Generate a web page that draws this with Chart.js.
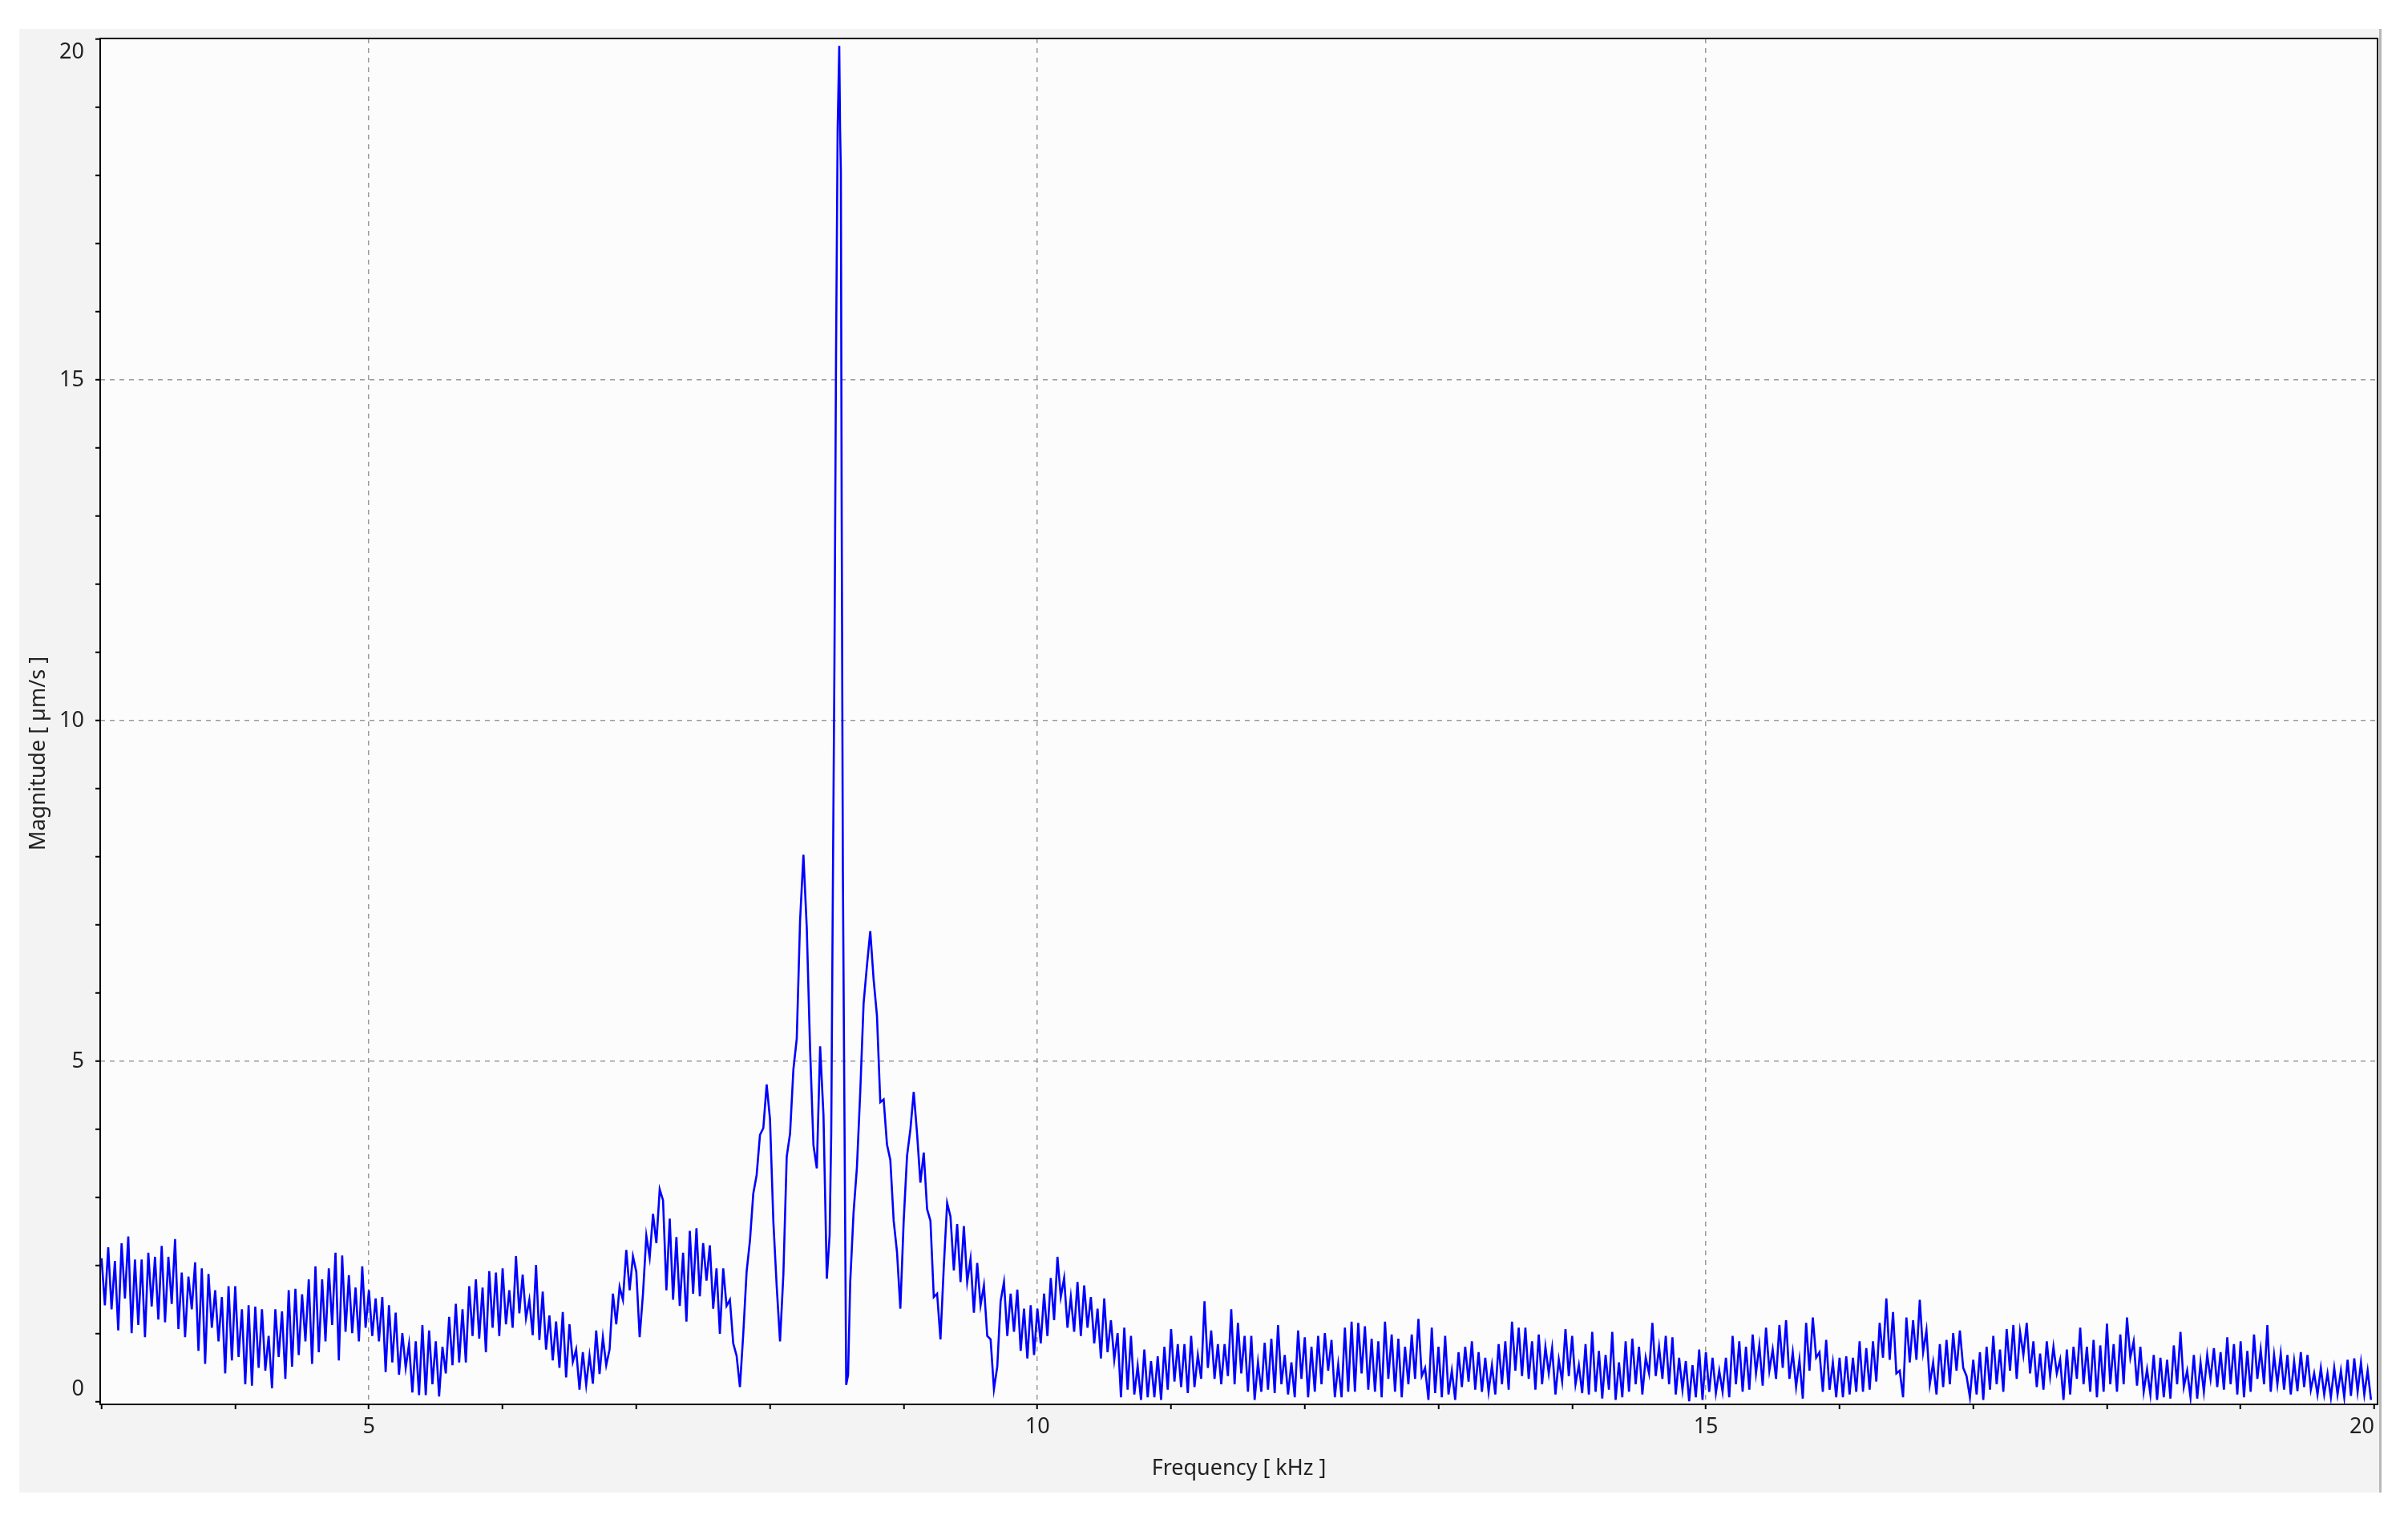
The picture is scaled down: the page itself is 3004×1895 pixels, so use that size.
<!DOCTYPE html>
<html>
<head>
<meta charset="utf-8">
<script src="https://cdn.jsdelivr.net/npm/chart.js@4.4.1/dist/chart.umd.min.js"></script>
<style>
  html, body { margin: 0; padding: 0; background: #fff; }
  canvas { display: block; width: 3004px; height: 1895px; }
</style>
</head>
<body>
<canvas id="spectrum" width="3004" height="1895"></canvas>
<script>
const BIN_STEP = 0.025;

// 3.00 - 6.00 kHz
const mag3to6 = [
  2.11,1.42, 2.27,1.36, 2.07,1.05, 2.33,1.52, 2.43,1.01,
  2.09,1.13, 2.09,0.95, 2.19,1.40, 2.13,1.21, 2.29,1.17,
  2.13,1.44, 2.39,1.07, 1.90,0.95, 1.84,1.36, 2.05,0.75,
  1.96,0.56, 1.88,1.09, 1.64,0.89, 1.54,0.42, 1.70,0.61,
  1.70,0.66, 1.36,0.26, 1.42,0.24, 1.40,0.50, 1.36,0.46,
  0.97,0.20, 1.36,0.66, 1.33,0.34, 1.64,0.52, 1.66,0.69,
  1.58,0.89, 1.80,0.56, 1.99,0.73, 1.80,0.89, 1.96,1.13,
  2.19,0.61, 2.15,1.03, 1.86,1.01, 1.68,0.89, 1.99,1.09,
  1.64,0.97, 1.52,0.89, 1.54,0.44, 1.42,0.58, 1.31,0.40,
  1.01,0.50, 0.85,0.14, 0.89,0.10, 1.13,0.10, 1.05,0.26,
  0.89,0.08, 0.81,0.42, 1.25,0.54, 1.44,0.58, 1.36,0.58,
  1.70,0.97, 1.80,0.93, 1.68,0.73, 1.92,1.09, 1.90,0.97,
];

// 6.00 - 8.00 kHz
const mag6to8 = [
  1.96,1.14, 1.64,1.09, 2.14,1.30, 1.87,1.23, 1.50,0.98,
  2.01,0.91, 1.62,0.77, 1.27,0.61, 1.18,0.50, 1.32,0.36,
  1.14,0.59, 0.77,0.18, 0.73,0.25, 0.68,0.27, 1.05,0.41,
  0.95,0.54, 0.77,1.59, 1.14,1.69, 1.50,2.23, 1.64,2.14,
  1.91,0.95, 1.59,2.44, 2.12,2.76, 2.33,3.12, 2.96,1.64,
  2.69,1.50, 2.42,1.41, 2.19,1.18, 2.51,1.59, 2.55,1.55,
  2.33,1.78, 2.30,1.37, 1.96,1.00, 1.96,1.41, 1.50,0.86,
  0.68,0.22, 1.00,1.91, 2.37,3.06, 3.33,3.92, 4.02,4.66,
];

// 8.00 - 8.45 kHz
const mag8to845 = [
  4.15,2.65, 1.70,0.89, 1.87,3.60, 3.94,4.88, 5.33,7.07,
  8.03,6.96, 5.17,3.77, 3.43,5.22, 4.21,1.81,
];

// main resonance, finer bins
const spikeFreq = [8.446, 8.458, 8.470, 8.482, 8.494, 8.506, 8.518, 8.524, 8.530, 8.536, 8.545, 8.556, 8.570, 8.584];
const spikeMag  = [2.45, 3.95, 7.50, 10.85, 15.40, 18.70, 19.90, 18.70, 18.05, 13.20, 7.80, 4.45, 0.25, 0.40];

// 8.60 - 10.50 kHz
const mag86to105 = [
  1.76,2.78, 3.44,4.55, 5.85,6.40, 6.91,6.20, 5.67,4.40,
  4.44,3.78, 3.55,2.66, 2.20,1.37, 2.66,3.61, 4.00,4.55,
  3.94,3.22, 3.66,2.83, 2.66,1.54, 1.59,0.92, 1.99,2.92,
  2.72,1.93, 2.61,1.76, 2.58,1.76, 2.10,1.31, 2.04,1.42,
  1.71,0.97, 0.92,0.19, 0.52,1.48, 1.76,0.97, 1.59,1.03,
  1.65,0.75, 1.37,0.64, 1.42,0.69, 1.37,0.86, 1.59,0.97,
  1.82,1.20, 2.13,1.54, 1.82,1.09, 1.54,1.03, 1.76,0.97,
  1.71,1.09, 1.54,0.86, 1.37,0.64,
];

// 10.50 - 13.65 kHz
const mag105to1365 = [
  1.52,0.73, 1.20,0.62, 1.01,0.07, 1.09,0.18, 0.97,0.11,
  0.53,0.03, 0.77,0.07, 0.60,0.07, 0.67,0.03, 0.81,0.18,
  1.07,0.30, 0.85,0.22, 0.85,0.13, 0.97,0.22, 0.69,0.34,
  1.48,0.50, 1.05,0.34, 0.85,0.26, 0.85,0.38, 1.36,0.26,
  1.16,0.42, 0.97,0.15, 0.97,0.03, 0.58,0.15, 0.87,0.18,
  0.93,0.13, 1.13,0.26, 0.69,0.11, 0.58,0.07, 1.05,0.34,
  0.95,0.07, 0.81,0.15, 0.97,0.26, 1.01,0.46, 0.91,0.07,
  0.55,0.07, 1.09,0.15, 1.18,0.15, 1.16,0.42, 1.11,0.18,
  0.93,0.15, 0.89,0.07, 1.18,0.34, 0.99,0.15, 0.93,0.07,
  0.81,0.26, 0.99,0.34, 1.22,0.38, 0.50,0.03, 1.09,0.13,
  0.81,0.07, 0.97,0.11, 0.46,0.03, 0.73,0.22, 0.81,0.30,
  0.89,0.18, 0.73,0.15, 0.65,0.15, 0.54,0.11, 0.85,0.26,
  0.89,0.18, 1.18,0.46, 1.09,0.38,
];

// 13.65 - 16.75 kHz
const mag1365to1675 = [
  1.09,0.34, 0.89,0.18, 0.99,0.26, 0.81,0.42, 0.79,0.11,
  0.62,0.30, 1.07,0.38, 0.97,0.26, 0.54,0.13, 0.85,0.11,
  1.03,0.15, 0.75,0.05, 0.69,0.18, 1.03,0.03, 0.58,0.07,
  0.89,0.15, 0.93,0.26, 0.81,0.11, 0.65,0.42, 1.16,0.38,
  0.81,0.34, 0.97,0.26, 0.95,0.11, 0.65,0.18, 0.60,0.01,
  0.54,0.07, 0.77,0.03, 0.73,0.15, 0.65,0.13, 0.46,0.15,
  0.65,0.07, 0.97,0.26, 0.89,0.15, 0.81,0.18, 0.99,0.42,
  0.83,0.24, 1.09,0.46, 0.77,0.34, 1.13,0.50, 1.20,0.34,
  0.73,0.22, 0.62,0.05, 1.16,0.46, 1.24,0.65, 0.73,0.15,
  0.91,0.18, 0.58,0.07, 0.65,0.07, 0.67,0.11, 0.65,0.15,
  0.89,0.15, 0.79,0.18, 0.89,0.30, 1.16,0.65, 1.52,0.62,
  1.32,0.42, 0.46,0.07, 1.24,0.58, 1.20,0.62, 1.50,0.73,
  1.05,0.26, 0.58,0.11,
];

// 16.75 - 20.00 kHz
const mag1675to20 = [
  0.85,0.22, 0.91,0.26, 1.01,0.46, 1.05,0.50, 0.38,0.07,
  0.62,0.11, 0.73,0.03, 0.81,0.18, 0.97,0.26, 0.77,0.15,
  1.07,0.46, 1.13,0.34, 1.03,0.69, 1.16,0.42, 0.89,0.22,
  0.71,0.18, 0.89,0.38, 0.81,0.42, 0.62,0.03, 0.77,0.11,
  0.81,0.34, 1.09,0.26, 0.81,0.15, 0.91,0.07, 0.83,0.15,
  1.15,0.26, 0.85,0.15, 0.99,0.26, 1.24,0.65, 0.89,0.24,
  0.81,0.15, 0.48,0.11, 0.69,0.03, 0.65,0.07, 0.62,0.05,
  0.83,0.26, 1.03,0.22, 0.46,0.07, 0.69,0.05, 0.58,0.15,
  0.69,0.34, 0.79,0.22, 0.73,0.18, 0.95,0.26, 0.85,0.11,
  0.89,0.07, 0.75,0.15, 0.99,0.34, 0.77,0.26, 1.13,0.15,
  0.69,0.26, 0.71,0.18, 0.69,0.11, 0.60,0.16, 0.73,0.22,
  0.69,0.18, 0.42,0.11, 0.50,0.11, 0.42,0.07, 0.50,0.11,
  0.46,0.07, 0.62,0.09, 0.64,0.15, 0.58,0.11, 0.46,0.03,
];

const segments = [
  { from: 3.00, mags: mag3to6 },
  { from: 6.00, mags: mag6to8 },
  { from: 8.00, mags: mag8to845 },
  { from: 8.60, mags: mag86to105 },
  { from: 10.50, mags: mag105to1365 },
  { from: 13.65, mags: mag1365to1675 },
  { from: 16.75, mags: mag1675to20 },
];

// axes
const xTicks = [3, 4, 5, 6, 7, 8, 9, 10, 11, 12, 13, 14, 15, 16, 17, 18, 19, 20];
const xLabels = [5, 10, 15, 20];
const xGrid = [5, 10, 15];
const yTicks = [0, 1, 2, 3, 4, 5, 6, 7, 8, 9, 10, 11, 12, 13, 14, 15, 16, 17, 18, 19, 20];
const yLabels = [0, 5, 10, 15, 20];
const yGrid = [5, 10, 15];

const points = [];
segments.forEach((seg) => {
  seg.mags.forEach((m, i) => points.push({ x: seg.from + i * BIN_STEP, y: m }));
});
spikeFreq.forEach((f, i) => points.push({ x: f, y: spikeMag[i] }));
points.sort((a, b) => a.x - b.x);

const FONT = '"Noto Sans", "Open Sans", sans-serif';
const TEXT = '#222222';
const GRID = '#9a9a9a';

const frame = {
  id: 'frame',
  beforeDraw(chart) {
    const { ctx, chartArea: a } = chart;
    ctx.save();
    ctx.fillStyle = '#ffffff';
    ctx.fillRect(0, 0, chart.width, chart.height);
    ctx.fillStyle = '#f3f3f3';
    ctx.fillRect(24, 36, 2946, 1826);
    ctx.fillStyle = '#b8b8b8';
    ctx.fillRect(2968, 36, 3, 1826);
    ctx.fillStyle = '#fcfcfc';
    ctx.fillRect(a.left, a.top, a.right - a.left, a.bottom - a.top);
    ctx.restore();
  },
  afterDraw(chart) {
    const { ctx, chartArea: a } = chart;
    ctx.save();
    ctx.strokeStyle = '#000';
    ctx.lineWidth = 2;
    ctx.strokeRect(a.left, a.top, a.right - a.left, a.bottom - a.top);
    // y title sits a bit below the plot middle in the original
    ctx.translate(48, 940);
    ctx.rotate(-Math.PI / 2);
    ctx.font = '27px ' + FONT;
    ctx.fillStyle = TEXT;
    ctx.textAlign = 'center';
    ctx.textBaseline = 'middle';
    ctx.fillText('Magnitude [ µm/s ]', 0, 0);
    ctx.restore();
  },
};

const gridColor = (list) => (c) => (c.tick && list.includes(c.tick.value) ? GRID : 'rgba(0,0,0,0)');

// end labels are pushed inside the frame, like the original control does
const yLabel = (v) => {
  if (!yLabels.includes(v)) return '';
  if (v === 20) return ['', '20'];
  if (v === 0) return ['0', ''];
  return String(v);
};

new Chart(document.getElementById('spectrum'), {
  type: 'line',
  data: {
    datasets: [{
      data: points,
      borderColor: '#0000ff',
      borderWidth: 2.6,
      pointRadius: 0,
      tension: 0,
      fill: false,
    }],
  },
  options: {
    responsive: false,
    animation: false,
    devicePixelRatio: 1,
    layout: { padding: { left: 0, top: 48, right: 38, bottom: 0 } },
    plugins: { legend: { display: false }, tooltip: { enabled: false } },
    scales: {
      x: {
        type: 'linear',
        min: 2.99,
        max: 20.024,
        afterBuildTicks: (axis) => { axis.ticks = xTicks.map((v) => ({ value: v })); },
        afterFit: (axis) => { axis.height = 143; },
        grid: { color: gridColor(xGrid), lineWidth: 1.5, tickLength: 6, tickWidth: 2, tickColor: '#000' },
        border: { display: false, dash: [6, 6] },
        ticks: {
          autoSkip: false, maxRotation: 0, padding: 6, color: TEXT, align: 'inner',
          font: { family: FONT, size: 27 },
          callback: (v) => (xLabels.includes(v) ? String(v) : ''),
        },
        title: {
          display: true, text: 'Frequency [ kHz ]', color: TEXT,
          font: { family: FONT, size: 27 }, padding: { top: 0, bottom: 46 },
        },
      },
      y: {
        type: 'linear',
        min: -0.035,
        max: 20.01,
        afterBuildTicks: (axis) => { axis.ticks = yTicks.map((v) => ({ value: v })); },
        afterFit: (axis) => { axis.width = 125; },
        grid: { color: gridColor(yGrid), lineWidth: 1.5, tickLength: 6, tickWidth: 2, tickColor: '#000' },
        border: { display: false, dash: [6, 6] },
        ticks: {
          autoSkip: false, padding: 14, color: TEXT,
          font: { family: FONT, size: 27 },
          callback: yLabel,
        },
      },
    },
  },
  plugins: [frame],
});
</script>
</body>
</html>
